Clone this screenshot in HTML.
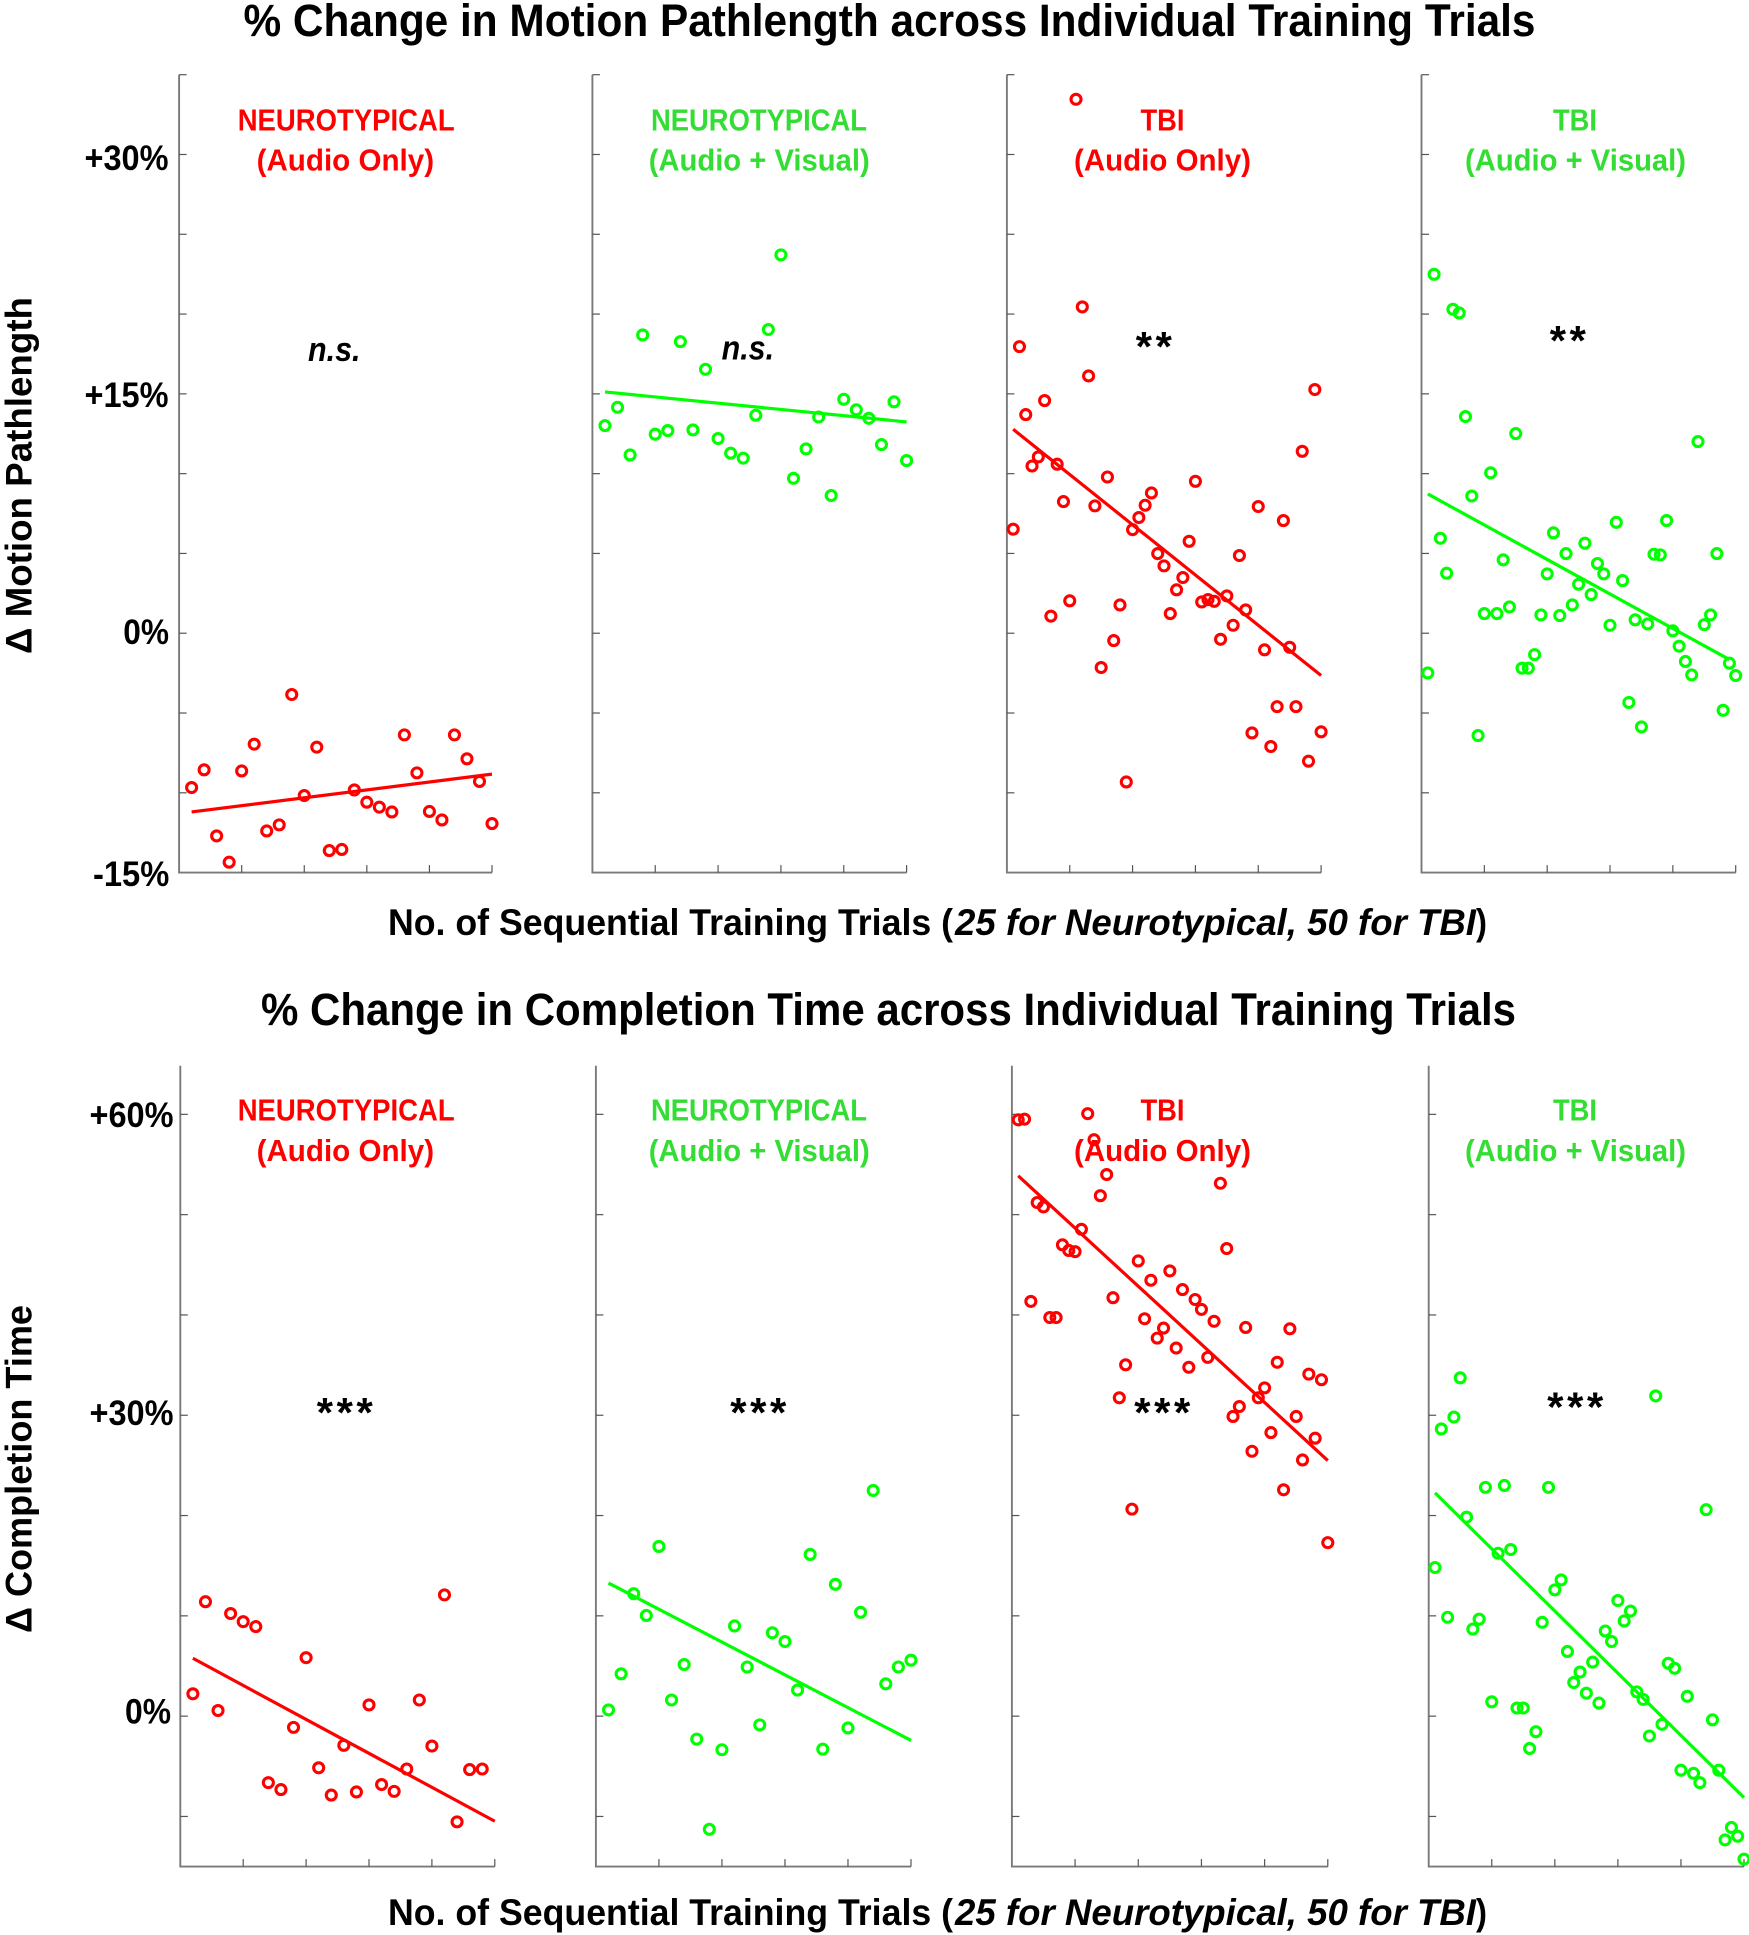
<!DOCTYPE html>
<html lang="en">
<head>
<meta charset="utf-8">
<title>% Change across Individual Training Trials</title>
<style>
html,body{margin:0;padding:0;background:#fff;}
svg{display:block;}
text{font-family:"Liberation Sans",sans-serif;font-weight:700;fill:#000;}
.ylab{font-size:35px;}
.xlab{font-size:37px;}
.ttl{font-size:45px;}
.plab{font-size:31px;}
.red{fill:#ff0000;}
.grn{fill:#33dd33;}
.sig{font-size:34px;font-style:italic;}
.stars{font-size:42px;font-style:italic;letter-spacing:3.5px;}
</style>
</head>
<body>
<svg id="figure" xmlns="http://www.w3.org/2000/svg" width="1749" height="1935" viewBox="0 0 1749 1935">
  <rect width="1749" height="1935" fill="#fff"/>

  <text class="ttl" x="243.5" y="36" textLength="1292" lengthAdjust="spacingAndGlyphs">% Change in Motion Pathlength across Individual Training Trials</text>
  <text class="ttl" x="261" y="1025" textLength="1255" lengthAdjust="spacingAndGlyphs">% Change in Completion Time across Individual Training Trials</text>

  <text class="xlab" transform="translate(31.5,654) rotate(-90)" textLength="357" lengthAdjust="spacingAndGlyphs">Δ Motion Pathlength</text>
  <text class="xlab" transform="translate(31.5,1633) rotate(-90)" textLength="328" lengthAdjust="spacingAndGlyphs">Δ Completion Time</text>

  <g>
    <text class="xlab" x="388" y="935" textLength="565" lengthAdjust="spacingAndGlyphs">No. of Sequential Training Trials (</text>
    <text class="xlab" x="955" y="935" textLength="521" lengthAdjust="spacingAndGlyphs" font-style="italic">25 for Neurotypical, 50 for TBI</text>
    <text class="xlab" x="1476" y="935" textLength="11" lengthAdjust="spacingAndGlyphs">)</text>
  </g>
  <g>
    <text class="xlab" x="388" y="1925" textLength="565" lengthAdjust="spacingAndGlyphs">No. of Sequential Training Trials (</text>
    <text class="xlab" x="955" y="1925" textLength="521" lengthAdjust="spacingAndGlyphs" font-style="italic">25 for Neurotypical, 50 for TBI</text>
    <text class="xlab" x="1476" y="1925" textLength="11" lengthAdjust="spacingAndGlyphs">)</text>
  </g>

  <g id="axes-layer"></g>
  <g id="marks-layer"></g>

  <g>
    <text class="plab red" x="237.7" y="130.5" textLength="217" lengthAdjust="spacingAndGlyphs">NEUROTYPICAL</text>
    <text class="plab red" x="256.6" y="170.5" textLength="177.5" lengthAdjust="spacingAndGlyphs">(Audio Only)</text>
    <text class="plab grn" x="651" y="130.5" textLength="216" lengthAdjust="spacingAndGlyphs">NEUROTYPICAL</text>
    <text class="plab grn" x="648.7" y="170.5" textLength="221" lengthAdjust="spacingAndGlyphs">(Audio + Visual)</text>
    <text class="plab red" x="1140.5" y="130.5" textLength="44" lengthAdjust="spacingAndGlyphs">TBI</text>
    <text class="plab red" x="1074" y="170.5" textLength="177" lengthAdjust="spacingAndGlyphs">(Audio Only)</text>
    <text class="plab grn" x="1553" y="130.5" textLength="44" lengthAdjust="spacingAndGlyphs">TBI</text>
    <text class="plab grn" x="1465" y="170.5" textLength="221" lengthAdjust="spacingAndGlyphs">(Audio + Visual)</text>
  </g>
  <g>
    <text class="plab red" x="237.7" y="1120.5" textLength="217" lengthAdjust="spacingAndGlyphs">NEUROTYPICAL</text>
    <text class="plab red" x="256.6" y="1161" textLength="177.5" lengthAdjust="spacingAndGlyphs">(Audio Only)</text>
    <text class="plab grn" x="651" y="1120.5" textLength="216" lengthAdjust="spacingAndGlyphs">NEUROTYPICAL</text>
    <text class="plab grn" x="648.7" y="1161" textLength="221" lengthAdjust="spacingAndGlyphs">(Audio + Visual)</text>
    <text class="plab red" x="1140.5" y="1120.5" textLength="44" lengthAdjust="spacingAndGlyphs">TBI</text>
    <text class="plab red" x="1074" y="1161" textLength="177" lengthAdjust="spacingAndGlyphs">(Audio Only)</text>
    <text class="plab grn" x="1553" y="1120.5" textLength="44" lengthAdjust="spacingAndGlyphs">TBI</text>
    <text class="plab grn" x="1465" y="1161" textLength="221" lengthAdjust="spacingAndGlyphs">(Audio + Visual)</text>
  </g>

  <g>
    <text class="sig" x="308" y="361" textLength="52.5" lengthAdjust="spacingAndGlyphs">n.s.</text>
    <text class="sig" x="721.6" y="359.5" textLength="52.5" lengthAdjust="spacingAndGlyphs">n.s.</text>
    <text class="stars" x="1134" y="361">**</text>
    <text class="stars" x="1548" y="355">**</text>
    <text class="stars" x="315" y="1427">***</text>
    <text class="stars" x="728.5" y="1427">***</text>
    <text class="stars" x="1132.5" y="1427">***</text>
    <text class="stars" x="1545.5" y="1421.5">***</text>
  </g>
</svg>

<script>
// ---- Data: % change per sequential trial (trial number = index + 1) ----
const motionNtAudio = [-9.67,-8.56,-12.70,-14.35,-8.63,-6.95,-12.39,-12.01,-3.84,-10.17,-7.14,-13.62,-13.55,-9.82,-10.59,-10.90,-11.20,-6.37,-8.75,-11.17,-11.70,-6.37,-7.87,-9.29,-11.93];
const motionNtVisual = [13.01,14.16,11.17,18.69,12.47,12.70,18.27,12.74,16.54,12.20,11.28,10.97,13.66,19.03,23.71,9.71,11.55,13.55,8.63,14.66,14.00,13.47,11.82,14.50,10.82];
const motionTbiAudio = [6.52,17.96,13.70,10.48,11.05,14.58,1.07,10.59,8.25,2.03,33.46,20.45,16.12,7.98,-2.15,9.79,-0.46,1.77,-9.32,6.49,7.25,8.02,8.79,4.99,4.22,1.23,2.72,3.49,5.76,9.52,1.96,2.11,2.00,-0.38,2.34,0.50,4.87,1.46,-6.25,7.94,-1.04,-7.10,-4.60,7.06,-0.88,-4.60,11.40,-8.02,15.27,-6.18];
const motionTbiVisual = [-2.49,22.49,5.95,3.76,20.30,20.07,13.58,8.60,-6.41,1.23,10.05,1.23,4.60,1.65,12.51,-2.19,-2.19,-1.34,1.15,3.72,6.29,1.11,4.99,1.77,3.07,5.64,2.42,4.37,3.72,0.50,6.95,3.30,-4.34,0.84,-5.87,0.58,4.95,4.91,7.06,0.15,-0.81,-1.77,-2.61,12.01,0.54,1.15,4.99,-4.83,-1.88,-2.65];
const timeNtAudio = [2.23,11.41,0.56,10.23,9.42,8.93,-6.63,-7.32,-1.12,5.83,-5.15,-7.87,-2.91,-7.56,1.12,-6.82,-7.50,-5.27,1.61,-2.98,12.09,-10.54,-5.33,-5.27];
const timeNtVisual = [0.62,4.22,12.21,10.04,16.92,1.61,5.15,-2.29,-11.28,-3.35,8.99,4.90,-0.87,8.31,7.44,2.60,16.12,-3.29,13.14,-1.18,10.35,22.50,3.22,4.90,5.58];
const timeTbiAudio = [59.45,59.52,41.35,51.21,50.77,39.74,39.74,46.99,46.43,46.31,48.54,60.07,57.47,51.89,54.00,41.72,31.74,35.03,20.64,45.38,39.62,43.46,37.69,38.69,44.39,36.70,42.53,34.78,41.54,40.55,35.77,39.37,53.13,46.62,29.88,30.87,38.75,26.41,31.74,32.73,28.27,35.28,22.57,38.62,29.88,25.54,34.10,27.71,33.54,17.30];
const timeTbiVisual = [14.82,28.64,9.86,29.82,33.73,19.84,8.68,9.67,22.81,1.43,16.24,23.00,16.61,0.81,0.81,-3.22,-1.55,9.36,22.81,12.59,13.58,6.45,3.35,4.40,2.29,5.39,1.30,8.49,7.44,11.53,9.49,10.48,2.42,1.67,-1.98,31.93,-0.81,5.27,4.77,-5.39,1.98,-5.70,-6.63,20.58,-0.37,-5.39,-12.34,-11.10,-11.97,-14.26];

// ---- Trend lines: [value at first trial, value at last trial] ----
const trendMotionNtAudio = [-11.20,-8.83];
const trendMotionNtVisual = [15.12,13.24];
const trendMotionTbiAudio = [12.78,-2.65];
const trendMotionTbiVisual = [8.73,-1.65];
const trendTimeNtAudio = [5.77,-10.48];
const trendTimeNtVisual = [13.27,-2.42];
const trendTimeTbiAudio = [53.87,25.48];
const trendTimeTbiVisual = [22.26,-8.12];

// ---- Trial extents of each trend line ----
const trendTrialsNt = [1,25];
const trendTrialsTbiFull = [1,50];
const trendTrialsTbiShort = [1,49];

// ---- Axis tick values and labels ----
const motionTicks = [-10,-5,0,5,10,15,20,25,30,35];
const motionTickValues = [30,15,0,-15];
const motionTickLabels = ["+30%","+15%","0%","-15%"];
const timeTicks = [-10,0,10,20,30,40,50,60];
const timeTickValues = [60,30,0];
const timeTickLabels = ["+60%","+30%","0%"];
const xTicksNt = [5,10,15,20,25];
const xTicksTbi = [10,20,30,40,50];

// ---- Layout ----
const RED = "#ff0000", GREEN = "#00ff00", AXIS = "#7a7a7a", TICK = "#555555";
const NS = "http://www.w3.org/2000/svg";
const axesLayer = document.getElementById("axes-layer");
const marksLayer = document.getElementById("marks-layer");

const motionRow = {top:74.7, bottom:872.6, yMin:-15, yMax:35, ticks:motionTicks,
  tickValues:motionTickValues, tickLabels:motionTickLabels,
  labelRights:[168.5,168.5,169,169.3], labelDy:[15.7,13,11,13.5], labelFit:[84,84,45.7,76.3]};
const timeRow = {top:1065.7, bottom:1866.6, yMin:-15, yMax:64.85, ticks:timeTicks,
  tickValues:timeTickValues, tickLabels:timeTickLabels,
  labelRights:[173.5,173.5,171], labelDy:[12.7,10,7.3], labelFit:[84,84,46]};

function yScale(row, v){
  return row.bottom - (v - row.yMin) / (row.yMax - row.yMin) * (row.bottom - row.top);
}
function xScale(panel, t){
  return panel.left + t / panel.xMax * (panel.right - panel.left);
}

function drawAxes(panel){
  const row = panel.row;
  const frame = document.createElementNS(NS, "path");
  frame.setAttribute("d", "M" + panel.left + " " + row.top + " V" + row.bottom + " H" + panel.right);
  frame.setAttribute("fill", "none");
  frame.setAttribute("stroke", AXIS);
  frame.setAttribute("stroke-width", "1.9");
  
  
  axesLayer.appendChild(frame);
  row.ticks.forEach(function(v){
    const y = yScale(row, v);
    const tick = document.createElementNS(NS, "line");
    tick.setAttribute("x1", panel.left);
    tick.setAttribute("x2", panel.left + 7.5);
    tick.setAttribute("y1", y);
    tick.setAttribute("y2", y);
    tick.setAttribute("stroke", TICK);
    tick.setAttribute("stroke-width", "1.2");
    
    
    axesLayer.appendChild(tick);
  });
  panel.xTicks.forEach(function(t){
    const x = xScale(panel, t);
    const tick = document.createElementNS(NS, "line");
    tick.setAttribute("x1", x);
    tick.setAttribute("x2", x);
    tick.setAttribute("y1", row.bottom);
    tick.setAttribute("y2", row.bottom - 7.5);
    tick.setAttribute("stroke", TICK);
    tick.setAttribute("stroke-width", "1.2");
    
    
    axesLayer.appendChild(tick);
  });
}

function drawTickLabels(row){
  row.tickValues.forEach(function(v, i){
    const label = document.createElementNS(NS, "text");
    label.setAttribute("class", "ylab");
    label.setAttribute("x", row.labelRights[i] - row.labelFit[i]);
    label.setAttribute("y", yScale(row, v) + row.labelDy[i]);
    label.setAttribute("textLength", row.labelFit[i]);
    label.setAttribute("lengthAdjust", "spacingAndGlyphs");
    label.textContent = row.tickLabels[i];
    
    
    axesLayer.appendChild(label);
  });
}

function drawSeries(panel){
  const row = panel.row;
  const line = document.createElementNS(NS, "line");
  line.setAttribute("x1", xScale(panel, panel.trendTrials[0]));
  line.setAttribute("x2", xScale(panel, panel.trendTrials[1]));
  line.setAttribute("y1", yScale(row, panel.trend[0]));
  line.setAttribute("y2", yScale(row, panel.trend[1]));
  line.setAttribute("stroke", panel.color);
  line.setAttribute("stroke-width", "3.2");
  
  
  marksLayer.appendChild(line);
  panel.values.forEach(function(v, i){
    const dot = document.createElementNS(NS, "circle");
    dot.setAttribute("cx", xScale(panel, i + 1));
    dot.setAttribute("cy", yScale(row, v));
    dot.setAttribute("r", "5");
    dot.setAttribute("fill", "none");
    dot.setAttribute("stroke", panel.color);
    dot.setAttribute("stroke-width", "3.1");
    
    
    marksLayer.appendChild(dot);
  });
}

const panels = [
  {row:motionRow, left:179.1, right:492, xMax:25, xTicks:xTicksNt, color:RED, values:motionNtAudio, trend:trendMotionNtAudio, trendTrials:trendTrialsNt},
  {row:motionRow, left:592.4, right:906.6, xMax:25, xTicks:xTicksNt, color:GREEN, values:motionNtVisual, trend:trendMotionNtVisual, trendTrials:trendTrialsNt},
  {row:motionRow, left:1006.9, right:1321.1, xMax:50, xTicks:xTicksTbi, color:RED, values:motionTbiAudio, trend:trendMotionTbiAudio, trendTrials:trendTrialsTbiFull},
  {row:motionRow, left:1421.5, right:1735.7, xMax:50, xTicks:xTicksTbi, color:GREEN, values:motionTbiVisual, trend:trendMotionTbiVisual, trendTrials:trendTrialsTbiShort},
  {row:timeRow, left:180.3, right:494.8, xMax:25, xTicks:xTicksNt, color:RED, values:timeNtAudio, trend:trendTimeNtAudio, trendTrials:trendTrialsNt},
  {row:timeRow, left:595.9, right:911, xMax:25, xTicks:xTicksNt, color:GREEN, values:timeNtVisual, trend:trendTimeNtVisual, trendTrials:trendTrialsNt},
  {row:timeRow, left:1011.9, right:1327.8, xMax:50, xTicks:xTicksTbi, color:RED, values:timeTbiAudio, trend:trendTimeTbiAudio, trendTrials:trendTrialsTbiFull},
  {row:timeRow, left:1428.7, right:1744, xMax:50, xTicks:xTicksTbi, color:GREEN, values:timeTbiVisual, trend:trendTimeTbiVisual, trendTrials:trendTrialsTbiFull}
];

panels.forEach(drawAxes);
drawTickLabels(motionRow);
drawTickLabels(timeRow);
panels.forEach(drawSeries);
</script>
</body>
</html>
